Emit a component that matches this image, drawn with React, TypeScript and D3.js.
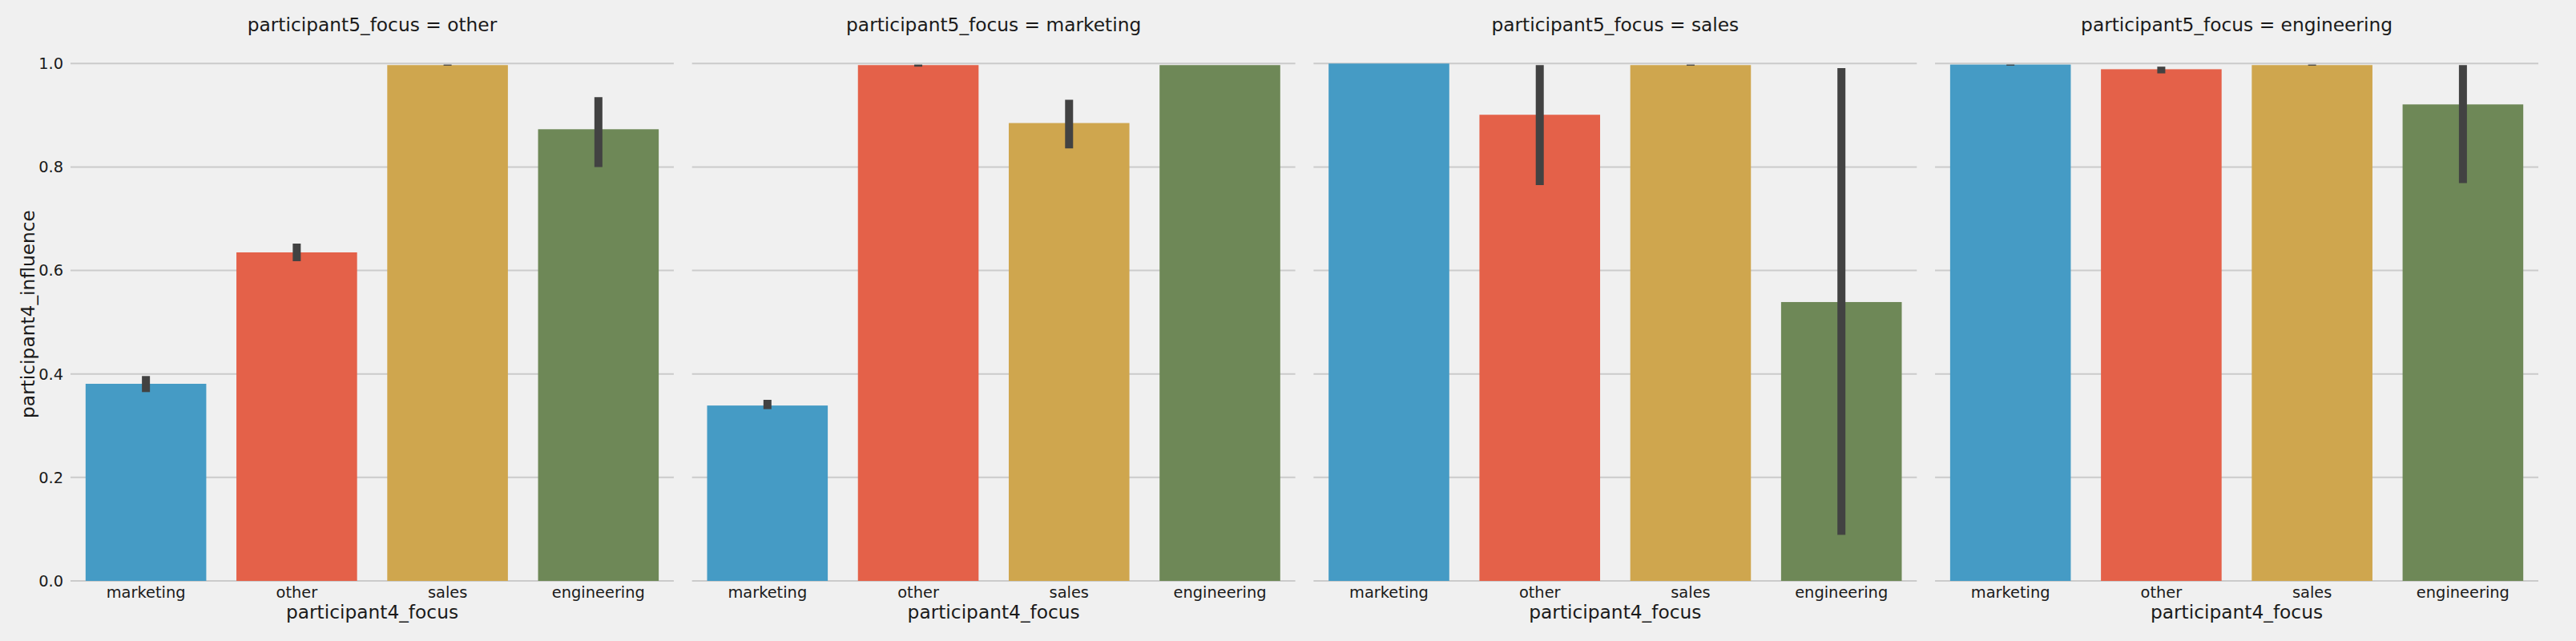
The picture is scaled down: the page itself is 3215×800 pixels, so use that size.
import * as React from 'react';
import {scaleBand, scaleLinear} from 'd3';

const categories = ['marketing', 'other', 'sales', 'engineering'];
const facets = ['other', 'marketing', 'sales', 'engineering'];
const yTicks = [0, 0.2, 0.4, 0.6, 0.8, 1.0];

// mean participant4_influence per participant4_focus, one array per facet
const otherMeans = [0.381, 0.635, 0.997, 0.873];
const marketingMeans = [0.339, 0.997, 0.885, 0.997];
const salesMeans = [1.0, 0.901, 0.997, 0.539];
const engineeringMeans = [0.998, 0.989, 0.997, 0.921];

// confidence intervals (low / high)
const otherLow = [0.365, 0.618, 0.996, 0.8];
const otherHigh = [0.396, 0.652, 0.998, 0.935];
const marketingLow = [0.332, 0.994, 0.836, 0.997];
const marketingHigh = [0.35, 0.998, 0.93, 0.997];
const salesLow = [1.0, 0.765, 0.996, 0.089];
const salesHigh = [1.0, 0.997, 0.998, 0.991];
const engineeringLow = [0.996, 0.981, 0.996, 0.769];
const engineeringHigh = [0.998, 0.994, 0.998, 0.997];

const means = [otherMeans, marketingMeans, salesMeans, engineeringMeans];
const lows = [otherLow, marketingLow, salesLow, engineeringLow];
const highs = [otherHigh, marketingHigh, salesHigh, engineeringHigh];

const colors = ['#459bc5', '#e46149', '#cfa64e', '#6e8857'];

const W = 3215;
const H = 800;
const font = '"DejaVu Sans", sans-serif';

export default function App() {
  const top = 79.3;
  const bottom = 725;

  const panel = scaleBand<string>()
    .domain(facets)
    .range([88, 3168])
    .paddingInner(0.0293)
    .paddingOuter(0);
  const pw = panel.bandwidth();

  const x = scaleBand<string>()
    .domain(categories)
    .range([0, pw])
    .paddingInner(0.2)
    .paddingOuter(0.1);
  const y = scaleLinear().domain([0, 1]).range([bottom, top]);

  return <div style={{position: 'absolute', left: 0, top: 0}}>
    <svg width={W} height={H} style={{display: 'block', background: '#f0f0f0'}}>
      <rect width={W} height={H} fill="#f0f0f0" />
      {facets.map((f, fi) => {
        const px = panel(f)!;
        return <g key={f} transform={`translate(${px},0)`}>
          {/* grid */}
          {yTicks.map((t) =>
            <line key={t} x1={0} x2={pw} y1={y(t)} y2={y(t)}
              stroke="#cbcbcb" strokeWidth={2} />)}
          {/* bars */}
          {categories.map((c, ci) =>
            <rect key={c} x={x(c)} width={x.bandwidth()}
              y={y(means[fi][ci])} height={y(0) - y(means[fi][ci])}
              fill={colors[ci]} />)}
          {/* error bars */}
          {categories.map((c, ci) => {
            const lo = lows[fi][ci];
            const hi = highs[fi][ci];
            if (hi - lo <= 0) {
              return null;
            }
            const cx = x(c)! + x.bandwidth() / 2;
            return <line key={c} x1={cx} x2={cx} y1={y(lo)} y2={y(hi)}
              stroke="#424242" strokeWidth={10} />;
          })}
          {/* x tick labels */}
          {categories.map((c) =>
            <text key={c} x={x(c)! + x.bandwidth() / 2} y={746}
              textAnchor="middle" fontFamily={font} fontSize={19.4}
              fill="#1a1a1a">{c}</text>)}
          <text x={pw / 2} y={772} textAnchor="middle" fontFamily={font}
            fontSize={23.3} fill="#1a1a1a">participant4_focus</text>
          <text x={pw / 2} y={38.5} textAnchor="middle" fontFamily={font}
            fontSize={23.3} fill="#1a1a1a">{`participant5_focus = ${f}`}</text>
          {fi === 0 && yTicks.map((t) =>
            <text key={t} x={-9} y={y(t)} dy="0.35em" textAnchor="end"
              fontFamily={font} fontSize={19.4} fill="#1a1a1a">{t.toFixed(1)}</text>)}
        </g>;
      })}
      <text transform={`translate(35,392) rotate(-90)`}
        textAnchor="middle" dy="0.35em" fontFamily={font} fontSize={23.3}
        fill="#1a1a1a">participant4_influence</text>
    </svg>
  </div>;
}
